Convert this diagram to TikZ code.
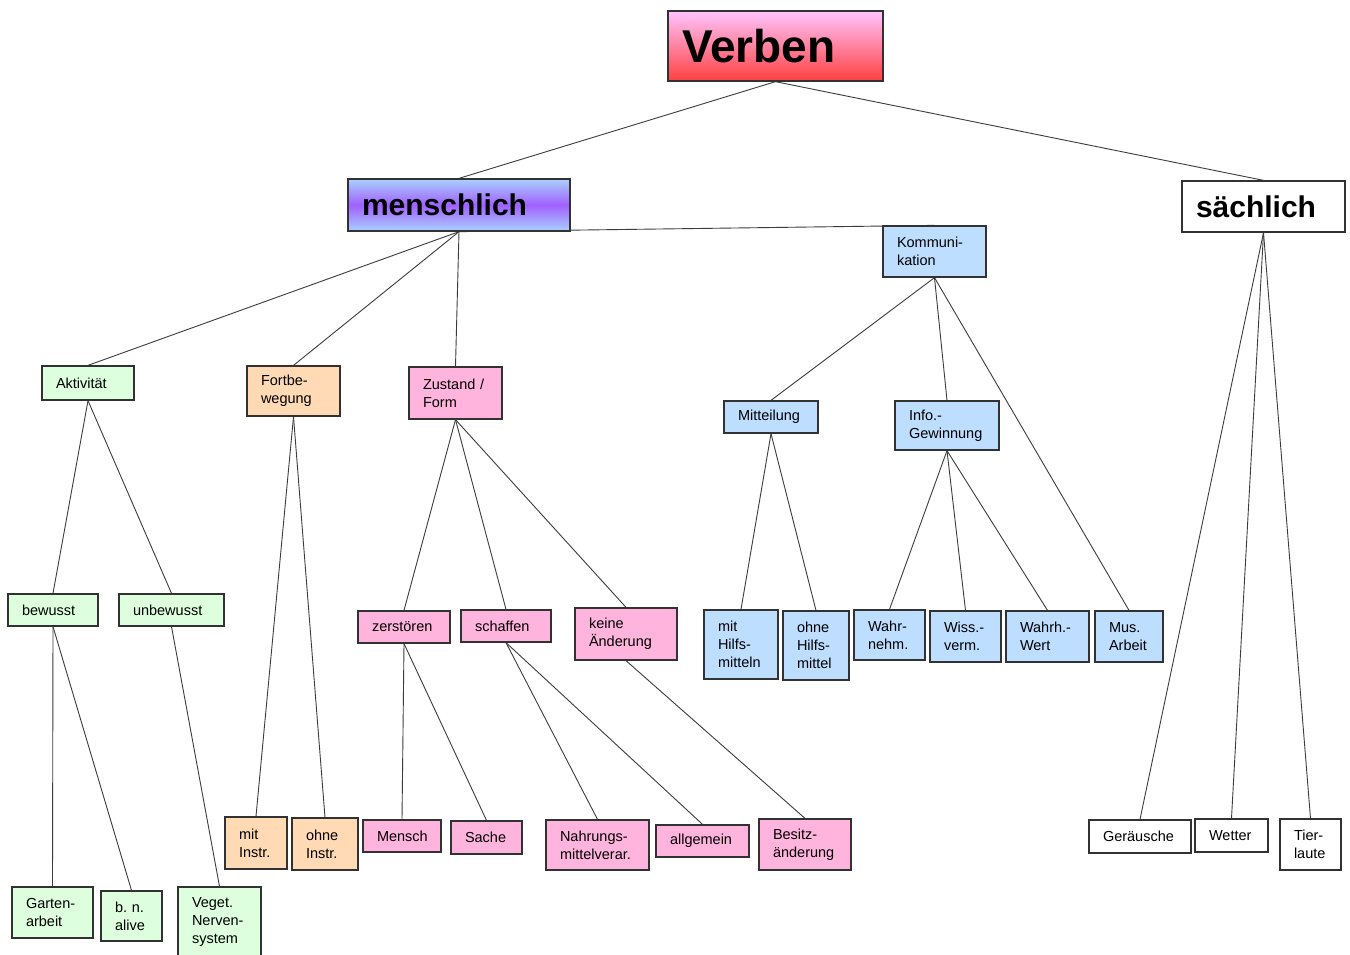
\documentclass[tikz,border=0pt]{standalone}
\usepackage{fontspec}
\setmainfont{Liberation Sans}
\usetikzlibrary{backgrounds}
\frenchspacing
\definecolor{cgreen}{RGB}{221,255,221}
\definecolor{cpeach}{RGB}{255,218,180}
\definecolor{cpink}{RGB}{255,180,222}
\definecolor{cblue}{RGB}{190,222,255}
\definecolor{edgec}{RGB}{50,50,50}
\definecolor{linec}{RGB}{60,60,60}
\definecolor{vtop}{RGB}{255,196,255}
\definecolor{vbot}{RGB}{255,64,64}
\definecolor{mblue}{RGB}{170,208,255}
\definecolor{mpurple}{RGB}{160,96,255}
\tikzset{
  box/.style={draw=edgec, line width=1.3pt, rectangle, align=left, inner xsep=14pt,
    inner ysep=0pt, font=\fontsize{14.5}{18}\selectfont, text=black},
  green/.style={fill=cgreen},
  peach/.style={fill=cpeach},
  pink/.style={fill=cpink},
  blue/.style={fill=cblue},
  plain/.style={fill=white},
  verbenbox/.style={top color=vtop, bottom color=vbot, font=\fontsize{46}{50}\selectfont\bfseries},
  menschbox/.style={top color=mblue, bottom color=mblue, middle color=mpurple, font=\fontsize{30}{36}\selectfont\bfseries},
  saechbox/.style={fill=white, font=\fontsize{30}{36}\selectfont\bfseries},
  conn/.style={draw=linec, line width=0.9pt}
}
\newcommand\mybox[7]{%
  \pgfmathsetmacro\bw{#4-#2-28}%
  \pgfmathsetmacro\bh{#5-#3}%
  \node[box,#6,text width=\bw pt,minimum height=\bh pt] (#1) at ({(#2+#4)/2},{(#3+#5)/2}) {#7};}
\begin{document}
\begin{tikzpicture}[x=1pt,y=-1pt]
\useasboundingbox (0,0) rectangle (1350,954);
\mybox{V}{668}{11}{883}{81}{verbenbox}{Verben}
\mybox{M}{348}{179}{570}{231}{menschbox}{menschlich}
\mybox{S}{1182}{181}{1345}{232}{saechbox}{sächlich}
\mybox{K}{883}{226}{986}{277}{blue}{Kommuni-\\kation}
\mybox{akt}{42}{366}{134}{400}{green}{Aktivität}
\mybox{fort}{247}{366}{340}{416}{peach}{Fortbe-\\wegung}
\mybox{zus}{409}{367}{502}{419}{pink}{Zustand /\\Form}
\mybox{mit}{724}{401}{818}{433}{blue}{Mitteilung}
\mybox{info}{895}{401}{999}{450}{blue}{Info.-\\Gewinnung}
\mybox{bew}{8}{594}{98}{626}{green}{bewusst}
\mybox{unb}{119}{594}{224}{626}{green}{unbewusst}
\mybox{zer}{358}{611}{450}{643}{pink}{zerstören}
\mybox{sch}{461}{610}{551}{642}{pink}{schaffen}
\mybox{kein}{575}{608}{677}{660}{pink}{keine\\Änderung}
\mybox{mh}{704}{610}{778}{679}{blue}{mit\\Hilfs-\\mitteln}
\mybox{oh}{783}{611}{849}{680}{blue}{ohne\\Hilfs-\\mittel}
\mybox{wn}{854}{610}{925}{660}{blue}{Wahr-\\nehm.}
\mybox{wv}{930}{611}{1001}{662}{blue}{Wiss.-\\verm.}
\mybox{ww}{1006}{611}{1089}{662}{blue}{Wahrh.-\\Wert}
\mybox{mus}{1095}{611}{1163}{662}{blue}{Mus.\\Arbeit}
\mybox{mi}{225}{817}{287}{869}{peach}{mit\\Instr.}
\mybox{oi}{292}{818}{358}{870}{peach}{ohne\\Instr.}
\mybox{men}{363}{820}{441}{852}{pink}{Mensch}
\mybox{sac}{451}{821}{522}{854}{pink}{Sache}
\mybox{nah}{546}{820}{649}{870}{pink}{Nahrungs-\\mittelverar.}
\mybox{all}{656}{825}{749}{857}{pink}{allgemein}
\mybox{bes}{759}{819}{851}{870}{pink}{Besitz-\\änderung}
\mybox{gar}{12}{887}{93}{938}{green}{Garten-\\arbeit}
\mybox{bn}{101}{891}{162}{941}{green}{b. n.\\alive}
\mybox{veg}{178}{887}{261}{958}{green}{Veget.\\Nerven-\\system}
\mybox{ger}{1089}{820}{1191}{853}{plain}{Geräusche}
\mybox{wet}{1195}{819}{1268}{852}{plain}{Wetter}
\mybox{tie}{1280}{819}{1341}{870}{plain}{Tier-\\laute}
\begin{pgfonlayer}{background}
\fill[white] (0,0) rectangle (1350,954);
\draw[conn] (V.south) -- (M.north);
\draw[conn] (V.south) -- (S.north);
\draw[conn] (M.south) -- (akt.north);
\draw[conn] (M.south) -- (fort.north);
\draw[conn] (M.south) -- (zus.north);
\draw[conn] (M.south) -- (K.north);
\draw[conn] (K.south) -- (mit.north);
\draw[conn] (K.south) -- (info.north);
\draw[conn] (K.south) -- (mus.north);
\draw[conn] (akt.south) -- (bew.north);
\draw[conn] (akt.south) -- (unb.north);
\draw[conn] (fort.south) -- (mi.north);
\draw[conn] (fort.south) -- (oi.north);
\draw[conn] (zus.south) -- (zer.north);
\draw[conn] (zus.south) -- (sch.north);
\draw[conn] (zus.south) -- (kein.north);
\draw[conn] (mit.south) -- (mh.north);
\draw[conn] (mit.south) -- (oh.north);
\draw[conn] (info.south) -- (wn.north);
\draw[conn] (info.south) -- (wv.north);
\draw[conn] (info.south) -- (ww.north);
\draw[conn] (bew.south) -- (gar.north);
\draw[conn] (bew.south) -- (bn.north);
\draw[conn] (unb.south) -- (veg.north);
\draw[conn] (zer.south) -- (men.north);
\draw[conn] (zer.south) -- (sac.north);
\draw[conn] (sch.south) -- (nah.north);
\draw[conn] (sch.south) -- (all.north);
\draw[conn] (kein.south) -- (bes.north);
\draw[conn] (S.south) -- (ger.north);
\draw[conn] (S.south) -- (wet.north);
\draw[conn] (S.south) -- (tie.north);
\end{pgfonlayer}
\end{tikzpicture}
\end{document}
